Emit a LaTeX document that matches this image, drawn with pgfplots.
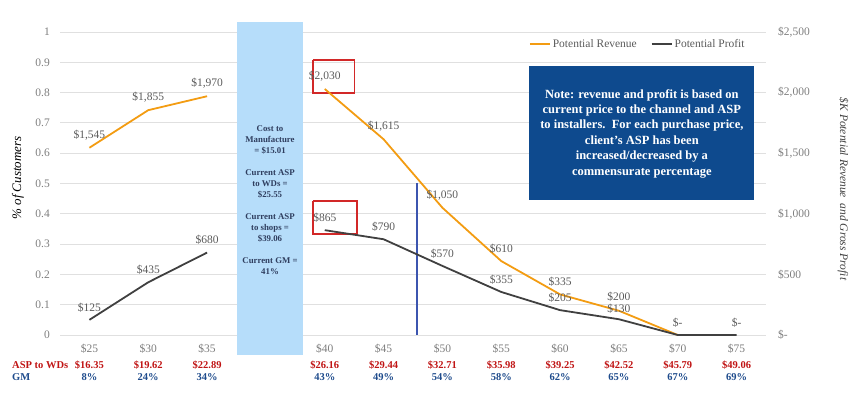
\documentclass[border=0pt]{standalone}
\usepackage{pgfplots}
\usepackage{pgfplotstable}
\pgfplotsset{compat=1.18}
\usepackage{fontspec}
\setmainfont{Liberation Serif}
\definecolor{revorange}{RGB}{243,156,18}
\definecolor{profgray}{RGB}{64,64,64}
\definecolor{lblgray}{RGB}{90,90,90}
\definecolor{tickgray}{RGB}{125,125,125}
\definecolor{gridgray}{RGB}{224,224,224}
\definecolor{boxblue}{RGB}{182,221,250}
\definecolor{boxtext}{RGB}{47,62,95}
\definecolor{noteblue}{RGB}{14,74,142}
\definecolor{aspred}{RGB}{192,20,20}
\definecolor{gmblue}{RGB}{30,75,140}
\definecolor{refline}{RGB}{60,85,175}
\definecolor{boxred}{RGB}{210,40,40}

\pgfplotstableread{
x y lab dy
0 1545 \$1,545 7
1 1855 \$1,855 7
2 1970 \$1,970 7
}\revA
\pgfplotstableread{
x y lab dy
4 2030 \$2,030 7
5 1615 \$1,615 7
6 1050 \$1,050 7
7 610 \$610 7
8 335 \$335 7
9 200 \$200 8.5
10 0 \$- 7
}\revB
\pgfplotstableread{
x y lab dy
0 125 \$125 7
1 435 \$435 7
2 680 \$680 7
}\profA
\pgfplotstableread{
x y lab dy
4 865 \$865 7
5 790 \$790 7
6 570 \$570 7
7 355 \$355 7
8 205 \$205 7
9 130 \$130 5
10 0 {} 7
11 0 \$- 7
}\profB

\begin{document}
\begin{tikzpicture}[x=1pt,y=1pt,
  asp/.style={font=\bfseries\fontsize{10.5}{12}\selectfont, text=aspred, yshift=-30pt, inner sep=0pt},
  gm/.style={font=\bfseries\fontsize{10.5}{12}\selectfont, text=gmblue, yshift=-42pt, inner sep=0pt}]
\path[use as bounding box] (-60,-63) rectangle (803,335);
\begin{axis}[
  at={(0,0)}, anchor=south west,
  scale only axis, width=706pt, height=303pt,
  xmin=-0.5, xmax=11.5, ymin=0, ymax=1,
  clip=false,
  axis line style={draw=none}, major tick style={draw=none},
  ytick={0,0.1,0.2,0.3,0.4,0.5,0.6,0.7,0.8,0.9,1},
  yticklabels={0,0.1,0.2,0.3,0.4,0.5,0.6,0.7,0.8,0.9,1},
  ymajorgrids, major grid style={gridgray, line width=0.9pt},
  xtick={0,1,2,4,5,6,7,8,9,10,11},
  xticklabels={\$25,\$30,\$35,\$40,\$45,\$50,\$55,\$60,\$65,\$70,\$75},
  yticklabel style={anchor=east, inner sep=0pt, xshift=-10pt, font=\fontsize{11.5}{13}\selectfont, text=tickgray},
  xticklabel style={anchor=base, inner sep=0pt, yshift=-18pt, font=\fontsize{11.5}{13}\selectfont, text=tickgray},
]
\fill[boxblue] (axis cs:2.51,-0.066) rectangle (axis cs:3.63,1.033);
\node[text=boxtext, align=center, font=\bfseries\fontsize{8.8}{11}\selectfont] at (axis cs:3.07,0.4455)
  {Cost to\\Manufacture\\= \$15.01\\[11pt]Current ASP\\to WDs =\\\$25.55\\[11pt]Current ASP\\to shops =\\\$39.06\\[11pt]Current GM =\\41\%};
\fill[noteblue] (axis cs:7.47,0.4455) rectangle (axis cs:11.30,0.888);
\node[text=white, align=center, font=\bfseries\fontsize{12.5}{15.4}\selectfont] at (axis cs:9.39,0.665)
  {Note: revenue and profit is based on\\current price to the channel and ASP\\to installers.\ \ For each purchase price,\\client’s ASP has been\\increased/decreased by a\\commensurate percentage};
\addplot[color=refline, line width=1.1pt] coordinates {(5.568,0) (5.568,0.5)};
\addplot[color=boxred, line width=1.4pt] coordinates {(3.80,0.9076) (4.51,0.9076) (4.51,0.7987) (3.80,0.7987) (3.80,0.9076)};
\addplot[color=boxred, line width=1.4pt] coordinates {(3.80,0.4422) (4.55,0.4422) (4.55,0.3333) (3.80,0.3333) (3.80,0.4422)};
\node[rotate=90, font=\itshape\fontsize{13}{15}\selectfont] at (rel axis cs:-0.0595,0.518) {\% of Customers};
\node[rotate=-90, text=profgray, font=\itshape\fontsize{11.5}{13}\selectfont] at (rel axis cs:1.109,0.482) {\$K Potential Revenue~ and Gross Profit};
\node[anchor=west, asp] at (rel axis cs:-0.068,0) {ASP to WDs};
\node[anchor=west, gm] at (rel axis cs:-0.068,0) {GM};
\node[asp] at (axis cs:0,0) {\$16.35};
\node[asp] at (axis cs:1,0) {\$19.62};
\node[asp] at (axis cs:2,0) {\$22.89};
\node[asp] at (axis cs:4,0) {\$26.16};
\node[asp] at (axis cs:5,0) {\$29.44};
\node[asp] at (axis cs:6,0) {\$32.71};
\node[asp] at (axis cs:7,0) {\$35.98};
\node[asp] at (axis cs:8,0) {\$39.25};
\node[asp] at (axis cs:9,0) {\$42.52};
\node[asp] at (axis cs:10,0) {\$45.79};
\node[asp] at (axis cs:11,0) {\$49.06};
\node[gm] at (axis cs:0,0) {8\%};
\node[gm] at (axis cs:1,0) {24\%};
\node[gm] at (axis cs:2,0) {34\%};
\node[gm] at (axis cs:4,0) {43\%};
\node[gm] at (axis cs:5,0) {49\%};
\node[gm] at (axis cs:6,0) {54\%};
\node[gm] at (axis cs:7,0) {58\%};
\node[gm] at (axis cs:8,0) {62\%};
\node[gm] at (axis cs:9,0) {65\%};
\node[gm] at (axis cs:10,0) {67\%};
\node[gm] at (axis cs:11,0) {69\%};
\end{axis}
\begin{axis}[
  at={(0,0)}, anchor=south west,
  scale only axis, width=706pt, height=303pt,
  xmin=-0.5, xmax=11.5, ymin=0, ymax=2500, clip=false,
  axis x line=none, axis y line*=right,
  axis line style={draw=none}, major tick style={draw=none},
  ytick={0,500,1000,1500,2000,2500},
  yticklabels={\$-,\$500,{\$1,000},{\$1,500},{\$2,000},{\$2,500}},
  yticklabel style={anchor=west, inner sep=0pt, xshift=12pt, font=\fontsize{11.5}{13}\selectfont, text=tickgray},
  legend style={draw=none, fill=none, at={(rel axis cs:0.977,0.96)}, anchor=east,
    font=\fontsize{11.5}{13}\selectfont, text=lblgray, legend columns=2,
    /tikz/every even column/.append style={column sep=12pt}},
  legend image code/.code={\draw[#1] (0pt,0pt) -- (20pt,0pt);},
  nodes near coords, point meta=explicit symbolic,
  visualization depends on={\thisrow{dy} \as \dy},
  every node near coord/.append style={inner sep=0pt, yshift=\dy pt, font=\fontsize{11.5}{13}\selectfont, text=lblgray},
]
\addplot[revorange, line width=1.8pt] table[x=x,y=y,meta=lab] {\revA};
\addlegendentry{Potential Revenue}
\addplot[revorange, line width=1.8pt, forget plot] table[x=x,y=y,meta=lab] {\revB};
\addplot[profgray, line width=1.8pt] table[x=x,y=y,meta=lab] {\profA};
\addlegendentry{Potential Profit}
\addplot[profgray, line width=1.8pt, forget plot] table[x=x,y=y,meta=lab] {\profB};
\end{axis}
\end{tikzpicture}
\end{document}
